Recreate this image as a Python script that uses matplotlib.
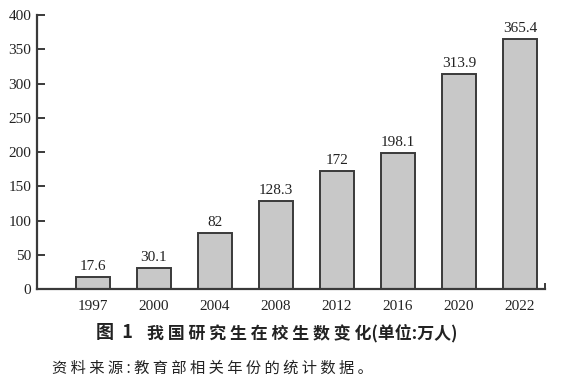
import matplotlib.pyplot as plt
import numpy as np

years = ['1997', '2000', '2004', '2008', '2012', '2016', '2020', '2022']
values = [17.6, 30.1, 82, 128.3, 172, 198.1, 313.9, 365.4]
value_labels = ['17.6', '30.1', '82', '128.3', '172', '198.1', '313.9', '365.4']
yticks = [0, 50, 100, 150, 200, 250, 300, 350, 400]

fig_no = '图  1'
title = '我国研究生在校生数变化'
unit = '(单位:万人)'
source = '资料来源:教育部相关年份的统计数据。'

serif = ['Liberation Serif', 'DejaVu Serif']
cjk = ['Noto Sans CJK SC', 'DejaVu Sans']

fig = plt.figure(figsize=(5.67, 3.89), dpi=100)
ax = fig.add_axes([0.065, 0.257, 0.896, 0.704])

x = np.arange(len(years))
ax.bar(x, values, width=0.56, color='#c8c8c8', edgecolor='#3a3a3a', linewidth=1.4, zorder=2)

for xi, v, lab in zip(x, values, value_labels):
    ax.text(xi, v + 6, lab, ha='center', va='bottom', fontsize=11, family=serif, color='#222222')

ax.set_xlim(-0.92, 7.41)
ax.set_ylim(0, 400)
ax.set_yticks(yticks)
ax.set_yticklabels([str(t) for t in yticks], family=serif, fontsize=11, color='#222222')
ax.set_xticks(x)
ax.set_xticklabels(years, family=serif, fontsize=11, color='#222222')

ax.tick_params(axis='y', direction='in', length=6, width=1.4, color='#3a3a3a', pad=4)
ax.tick_params(axis='x', length=0, pad=8)

ax.spines['top'].set_visible(False)
ax.spines['left'].set_linewidth(1.6)
ax.spines['left'].set_color('#3a3a3a')
ax.spines['bottom'].set_linewidth(1.6)
ax.spines['bottom'].set_color('#3a3a3a')
ax.spines['right'].set_bounds(0, 8)
ax.spines['right'].set_linewidth(1.4)
ax.spines['right'].set_color('#3a3a3a')

# caption lines, letter-spaced like the printed original
fig.text(96 / 567, 0.144, fig_no, ha='left', va='center', fontsize=13, family=cjk,
         fontweight='bold', color='#222222')
fig.text(147 / 567, 0.144, ' '.join(title) + unit, ha='left', va='center', fontsize=12.2,
         family=cjk, fontweight='bold', color='#222222')
fig.text(52 / 567, 0.054, ' '.join(source), ha='left', va='center', fontsize=11, family=cjk,
         color='#222222')

fig.savefig('out.png', dpi=100)
